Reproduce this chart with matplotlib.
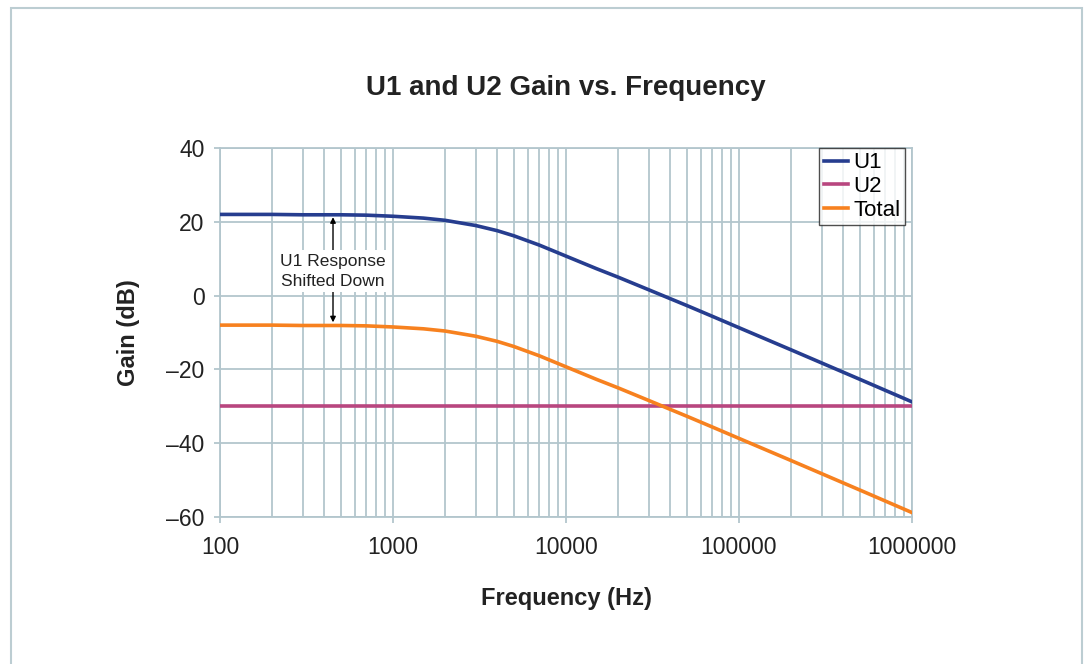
import numpy as np
import matplotlib
matplotlib.use("Agg")
import matplotlib.pyplot as plt
from matplotlib.patches import Rectangle
from matplotlib.ticker import FixedLocator, LogLocator, NullFormatter

plt.rcParams['font.family'] = ['Liberation Sans', 'DejaVu Sans']

# values
freq = [100, 150, 200, 300, 400, 500, 700, 1000, 1500, 2000, 3000, 4000, 5000,
        7000, 10000, 15000, 20000, 30000, 50000, 70000, 100000, 200000,
        500000, 1000000]
u1 = [22.0, 22.0, 22.0, 21.9, 21.9, 21.9, 21.8, 21.5, 21.0, 20.4, 19.0, 17.6,
      16.2, 13.7, 10.7, 7.3, 5.0, 1.6, -2.7, -5.6, -8.7, -14.7, -22.7, -28.8]
u2 = [-30.0] * len(freq)
total = [v - 30.0 for v in u1]

xticks = [100, 1000, 10000, 100000, 1000000]
xticklabels = ['100', '1000', '10000', '100000', '1000000']
yticks = [-60, -40, -20, 0, 20, 40]
yticklabels = ['\u201360', '\u201340', '\u201320', '0', '20', '40']

grid_col = '#b3c6cd'

fig = plt.figure(figsize=(10.84, 6.64), dpi=100)
fig.patches.append(Rectangle((11 / 1084, -0.1), (1082 - 11) / 1084, 1.1 - 8 / 664,
                             transform=fig.transFigure, fill=False,
                             edgecolor='#bccdd2', linewidth=1.5))

ax = fig.add_axes([220 / 1084, 1 - 517 / 664, (912 - 220) / 1084, (517 - 148) / 664])
ax.set_xscale('log')
ax.set_xlim(100, 1000000)
ax.set_ylim(-60, 40)

ax.plot(freq, u1, color='#263d8f', lw=2.6, label='U1', zorder=3)
ax.plot(freq, u2, color='#b8467f', lw=2.6, label='U2', zorder=3)
ax.plot(freq, total, color='#f7811f', lw=2.6, label='Total', zorder=3)

ax.xaxis.set_major_locator(FixedLocator(xticks))
ax.set_xticklabels(xticklabels)
ax.xaxis.set_minor_locator(LogLocator(base=10, subs=np.arange(2, 10)))
ax.xaxis.set_minor_formatter(NullFormatter())
ax.set_yticks(yticks)
ax.set_yticklabels(yticklabels)
ax.grid(True, which='both', color=grid_col, lw=1.3)
ax.set_axisbelow(True)
ax.tick_params(axis='both', which='major', length=4, color=grid_col, width=1.3,
               labelsize=16.5, labelcolor='#222222')
ax.tick_params(axis='y', which='major', pad=7)
ax.tick_params(axis='x', which='major', pad=10)
ax.tick_params(axis='x', which='minor', length=0)
for s in ax.spines.values():
    s.set_color(grid_col)
    s.set_linewidth(1.3)

ax.annotate('', xy=(450, 22), xytext=(450, -8),
            arrowprops=dict(arrowstyle='<|-|>', color='black', lw=1, mutation_scale=8),
            zorder=4)
ax.text(450, 6.6, 'U1 Response\nShifted Down', ha='center', va='center',
        fontsize=12.5, color='#222222', linespacing=1.4, zorder=5,
        bbox=dict(boxstyle='square,pad=0.2', fc='white', ec='none'))

ax.set_title('U1 and U2 Gain vs. Frequency', fontsize=20, fontweight='bold',
             color='#222222', pad=38)
ax.set_xlabel('Frequency (Hz)', fontsize=17, fontweight='bold', color='#222222',
              labelpad=20)
ax.set_ylabel('Gain (dB)', fontsize=17, fontweight='bold', color='#222222',
              labelpad=19)

leg = ax.legend(loc='upper right', bbox_to_anchor=(0.99, 1.0), fontsize=16,
                frameon=True, fancybox=False, edgecolor='#222222',
                handlelength=1.1, handletextpad=0.25, borderpad=0.2,
                labelspacing=0.12, borderaxespad=0)
leg.get_frame().set_linewidth(1.0)
for line in leg.get_lines():
    line.set_linewidth(2.6)

fig.savefig('out.png', dpi=100)
